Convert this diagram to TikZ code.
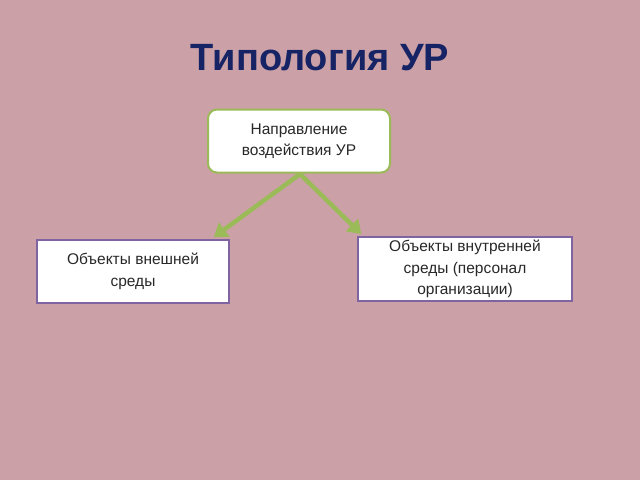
\documentclass[tikz,border=0pt]{standalone}
\usepackage{fontspec}
\setmainfont{Liberation Sans}
\usetikzlibrary{arrows.meta}
\definecolor{bgpink}{RGB}{203,160,166}
\definecolor{titleblue}{RGB}{22,35,100}
\definecolor{boxgreen}{RGB}{155,187,89}
\definecolor{boxpurple}{RGB}{128,100,162}
\definecolor{txtgray}{RGB}{40,40,40}
\begin{document}
\begin{tikzpicture}[x=1pt,y=-1pt,
  topbox/.style={draw=boxgreen,line width=2pt,fill=white,rounded corners=9pt,minimum width=182pt,minimum height=63pt,align=center,font=\fontsize{15.5}{21.5}\selectfont,text=txtgray},
  objbox/.style={draw=boxpurple,line width=1.5pt,fill=white,align=center,font=\fontsize{15.5}{21.5}\selectfont,text=txtgray},
  conn/.style={draw=boxgreen,line width=4.5pt,-{Triangle[length=13pt,width=17pt]}}]
\fill[bgpink] (0,0) rectangle (640,480);
\useasboundingbox (0,0) rectangle (640,480);
\node[font=\bfseries\fontsize{38}{42}\selectfont,text=titleblue] (title) at (320,58) {Типология УР};
\node[topbox] (top) at (299,141) {Направление\\воздействия УР};
\node[objbox,minimum width=192pt,minimum height=63pt] (left) at (133,271.5) {Объекты внешней\\среды};
\node[objbox,minimum width=214pt,minimum height=64pt] (right) at (465,269) {Объекты внутренней\\среды (персонал\\организации)};
\coordinate (fork) at (300,174);
\draw[conn] (fork) -- ([xshift=-16pt,yshift=2pt]left.north east);
\draw[conn] (fork) -- ([xshift=4pt,yshift=2pt]right.north west);
\end{tikzpicture}
\end{document}
